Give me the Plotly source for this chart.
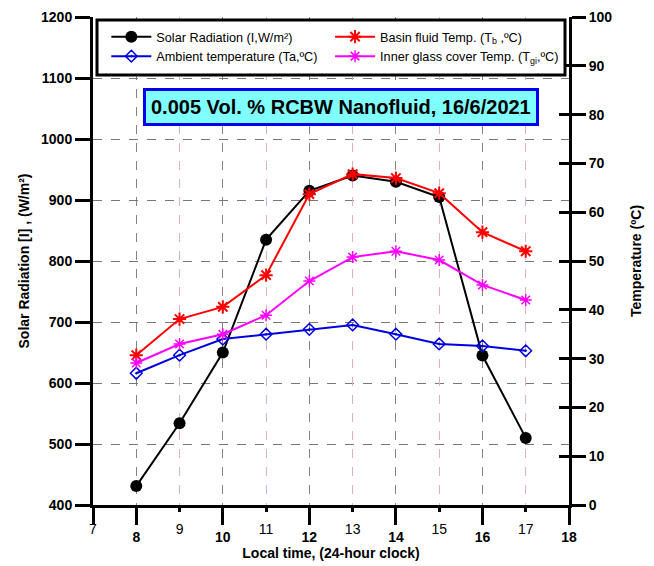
import plotly.graph_objects as go

hours = [8, 9, 10, 11, 12, 13, 14, 15, 16, 17]
solar = [431, 534, 650, 835, 915, 940, 930, 905, 645, 510]
ambient = [27.0, 30.7, 34.0, 35.0, 36.0, 36.9, 35.0, 33.0, 32.6, 31.6]
basin = [30.7, 38.1, 40.6, 47.1, 63.7, 67.8, 67.0, 63.9, 55.9, 52.0]
glass = [29.1, 33.0, 35.0, 38.9, 45.9, 50.8, 52.0, 50.2, 45.1, 42.0]

even_ticks = [8, 10, 12, 14, 16, 18]
even_text = ["<b>8</b>", "<b>10</b>", "<b>12</b>", "<b>14</b>", "<b>16</b>", "<b>18</b>"]
odd_ticks = [7, 9, 11, 13, 15, 17]
odd_text = ["7", "9", "11", "13", "15", "17"]
left_ticks = list(range(400, 1201, 100))
right_ticks = list(range(0, 101, 10))

FONT = "Liberation Sans, Arial, sans-serif"

fig = go.Figure()
fig.add_trace(go.Scatter(x=hours, y=solar, name="Solar Radiation (I,W/m²)", mode="lines+markers",
                         line=dict(color="black", width=2), legend="legend",
                         marker=dict(symbol="circle", size=12, color="black"), yaxis="y", xaxis="x"))
fig.add_trace(go.Scatter(x=hours, y=ambient, name="Ambient temperature (Ta,ºC)", mode="lines+markers",
                         line=dict(color="#0000dd", width=2), legend="legend",
                         marker=dict(symbol="diamond-open-dot", size=9, color="#0000dd", line=dict(width=1.5, color="#0000dd")),
                         yaxis="y2", xaxis="x"))
fig.add_trace(go.Scatter(x=hours, y=basin, name="Basin fluid Temp. (T<sub>b</sub> ,ºC)&nbsp;&nbsp;", mode="lines+markers",
                         line=dict(color="#ff0000", width=2), legend="legend2",
                         marker=dict(symbol="asterisk-open", size=11, color="#ff0000", line=dict(width=2, color="#ff0000")),
                         yaxis="y2", xaxis="x"))
fig.add_trace(go.Scatter(x=hours, y=glass, name="Inner glass cover Temp. (T<sub>gi</sub>,ºC)&nbsp;&nbsp;", mode="lines+markers",
                         line=dict(color="#ff00ff", width=2), legend="legend2",
                         marker=dict(symbol="asterisk-open", size=10, color="#ff00ff", line=dict(width=1.5, color="#ff00ff")),
                         yaxis="y2", xaxis="x"))

leg_common = dict(yanchor="top", xanchor="left", orientation="v", bgcolor="rgba(0,0,0,0)",
                  borderwidth=0, font=dict(size=12.7, family=FONT), traceorder="normal",
                  tracegroupgap=0, itemwidth=40)

fig.update_layout(
    width=646, height=558,
    margin=dict(l=85, r=85, t=9, b=61),
    paper_bgcolor="white", plot_bgcolor="white",
    font=dict(family=FONT, color="black", size=13),
    showlegend=True,
    legend=dict(x=0.028, y=0.99, **leg_common),
    legend2=dict(x=0.498, y=0.99, **leg_common),
    xaxis=dict(range=[7, 18], tickmode="array", tickvals=even_ticks, ticktext=even_text,
               ticks="outside", ticklen=17, tickwidth=3, tickcolor="black",
               minor=dict(tickmode="array", tickvals=[7], ticks="outside", ticklen=17, tickwidth=3,
                          tickcolor="black", showgrid=False),
               showline=True, linecolor="black", linewidth=2.5, automargin=False,
               showgrid=True, gridcolor="#8a8080", griddash="dash", gridwidth=1,
               zeroline=False, tickfont=dict(size=14, family=FONT), ticklabelstandoff=0,
               title=dict(text="<b>Local time, (24-hour clock)</b>", font=dict(size=14), standoff=2)),
    xaxis2=dict(range=[7, 18], overlaying="x", side="bottom", anchor="y", tickmode="array",
                tickvals=odd_ticks, ticktext=odd_text, ticks="outside", ticklen=6, tickwidth=2.5,
                tickcolor="black", showline=False, showgrid=True, gridcolor="#e0b0c0", griddash="dash",
                zeroline=False, tickfont=dict(size=14, family=FONT), ticklabelstandoff=5, automargin=False),
    yaxis=dict(range=[400, 1200], tickmode="array", tickvals=left_ticks,
               ticktext=[f"<b>{v}</b>" for v in left_ticks],
               ticks="outside", ticklen=15, tickwidth=3, tickcolor="black",
               showline=True, linecolor="black", linewidth=3, automargin=False,
               showgrid=True, gridcolor="#777", griddash="dash", gridwidth=1,
               zeroline=False, tickfont=dict(size=14, family=FONT),
               title=dict(text="<b>Solar Radiation [I] , (W/m²)</b>", font=dict(size=14), standoff=9)),
    yaxis2=dict(range=[0, 100], overlaying="y", side="right", anchor="x", tickmode="array",
                tickvals=right_ticks, ticktext=[f"<b>{v}</b>" for v in right_ticks],
                ticks="outside", ticklen=14, tickwidth=3, tickcolor="black", automargin=False,
                showline=True, linecolor="black", linewidth=3, showgrid=False, zeroline=False,
                tickfont=dict(size=14, family=FONT),
                title=dict(text="<b>Temperature (ºC)</b>", font=dict(size=14), standoff=20)),
    yaxis3=dict(range=[0, 100], overlaying="y", side="right", anchor="x", tickmode="array",
                tickvals=right_ticks, automargin=False,
                ticks="inside", ticklen=10, tickwidth=3, tickcolor="black",
                showline=False, showgrid=False, zeroline=False, showticklabels=False),
)

# legend frame
fig.add_shape(type="rect", xref="paper", yref="paper",
              x0=(97 - 93) / 476, x1=(565 - 93) / 476,
              y0=1 - (75 - 17) / 488, y1=1 - (20 - 17) / 488,
              line=dict(color="black", width=3), fillcolor="white", layer="above")

fig.add_annotation(x=0.521, y=0.816, xref="paper", yref="paper", xanchor="center", yanchor="middle",
                   text="<b>0.005 Vol. % RCBW Nanofluid, 16/6/2021</b>",
                   showarrow=False, font=dict(size=20, family=FONT, color="black"),
                   bgcolor="#80ffff", bordercolor="#0000ee", borderwidth=3, borderpad=5)

# dummy trace to bind xaxis2 and yaxis3
fig.add_trace(go.Scatter(x=[None], y=[None], xaxis="x2", yaxis="y3", showlegend=False, hoverinfo="skip"))

fig.write_html("out.html")
